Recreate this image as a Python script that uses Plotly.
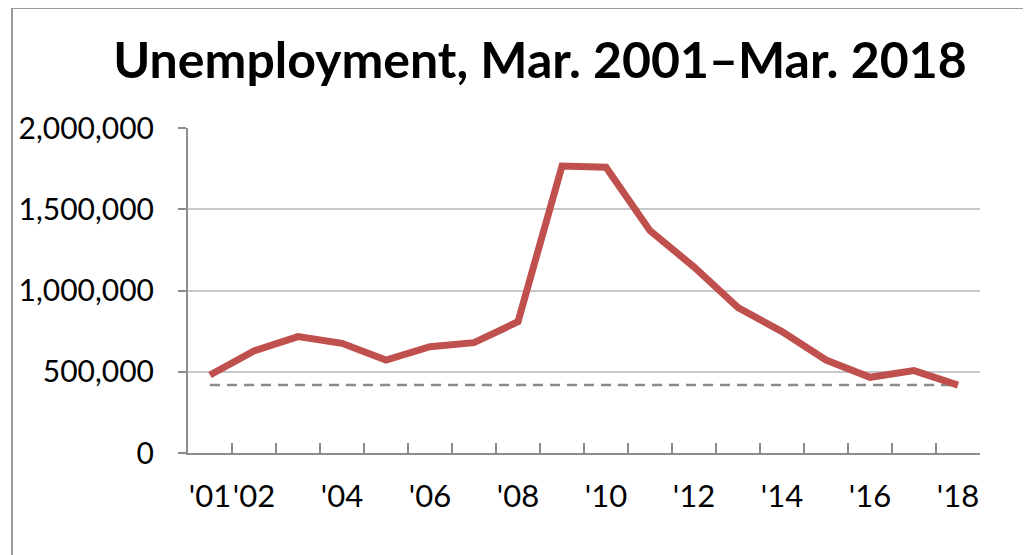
import plotly.graph_objects as go

years = [str(y) for y in range(2001, 2019)]
year_labels = ["'01", "'02", "", "'04", "", "'06", "", "'08", "", "'10",
               "", "'12", "", "'14", "", "'16", "", "'18"]
unemployed = [480000, 628000, 716000, 675000, 572000, 654000, 679000, 808000,
              1766000, 1758000, 1368000, 1145000, 895000, 747000, 572000,
              466000, 507000, 418000]
latest_level = 418000
y_ticks = [0, 500000, 1000000, 1500000, 2000000]

fig = go.Figure()
fig.add_trace(go.Scatter(
    x=[years[0], years[-1]], y=[latest_level, latest_level], mode='lines',
    line=dict(color='#8a8a8a', width=2.5, dash='10px,7px'), hoverinfo='skip'))
fig.add_trace(go.Scatter(
    x=years, y=unemployed, mode='lines',
    line=dict(color='#c0504d', width=7)))

grey = '#8c8c8c'
# the page body adds an 8px offset, margins compensate for it
fig.update_layout(
    width=1031, height=555,
    margin=dict(l=180, r=59, t=120, b=110, autoexpand=False),
    paper_bgcolor='white', plot_bgcolor='white',
    showlegend=False,
    font=dict(family='Lato', color='black'),
    title=dict(text='<b>Unemployment, Mar. 2001–Mar. 2018</b>',
               x=0.516, xanchor='center', y=0.905, yanchor='middle',
               font=dict(size=50, family='Lato', color='black')),
)
fig.update_xaxes(
    type='category', categoryorder='array', categoryarray=years,
    range=[-0.5, 17.5],
    tickmode='array', tickvals=years, ticktext=year_labels, tickangle=0,
    tickson='boundaries', ticks='inside', ticklen=10, tickcolor=grey, tickwidth=2,
    showline=True, linecolor=grey, linewidth=2, showgrid=False, automargin=False,
    tickfont=dict(size=31), ticklabelstandoff=15)
fig.update_yaxes(
    range=[0, 2000000], tickvals=y_ticks, tickformat=',d',
    ticks='outside', ticklen=8, tickcolor=grey, tickwidth=2,
    showline=True, linecolor=grey, linewidth=2, automargin=False,
    showgrid=True, gridcolor='#c8c8c8', gridwidth=1.5, zeroline=False,
    tickfont=dict(size=30), ticklabelstandoff=18)

# chart-area border, cut off at the right and bottom edges
fig.add_shape(type='line', xref='paper', yref='paper',
              x0=-0.2222, x1=1.07, y0=1.369, y1=1.369,
              line=dict(color='#9a9a9a', width=2))
fig.add_shape(type='line', xref='paper', yref='paper',
              x0=-0.2222, x1=-0.2222, y0=1.369, y1=-0.32,
              line=dict(color='#9a9a9a', width=2))

fig.write_html("out.html")
